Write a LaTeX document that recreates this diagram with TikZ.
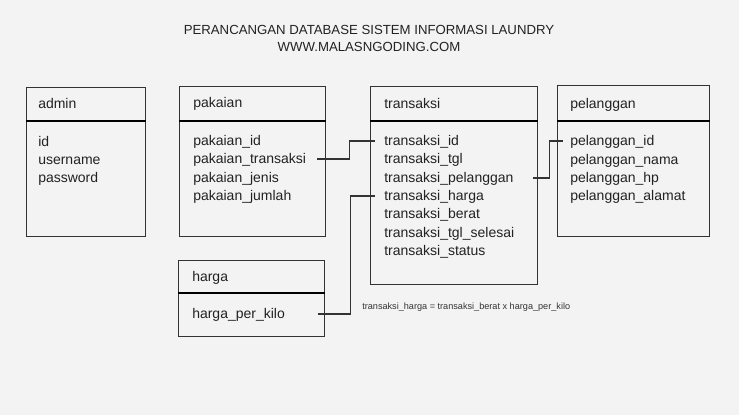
\documentclass[tikz,border=0pt]{standalone}
\usepackage{fontspec}
\setmainfont{Liberation Sans}
\usetikzlibrary{calc}
\definecolor{bg}{HTML}{F3F3F3}
\definecolor{ink}{HTML}{222222}
\definecolor{edge}{HTML}{333333}
\begin{document}
\begin{tikzpicture}[x=0.75pt,y=-0.75pt,
  tbl/.style={draw=edge, line width=0.9pt, anchor=north west, inner sep=0pt},
  sep/.style={line width=1.7pt, black},
  fld/.style={anchor=west, inner sep=0pt, text height=8pt, text depth=0.8pt, font=\fontsize{10.5pt}{12pt}\selectfont, text=ink},
  ttl/.style={inner sep=0pt, font=\fontsize{9.9pt}{11pt}\selectfont, text=ink},
  note/.style={anchor=west, inner sep=0pt, font=\fontsize{6.85pt}{8pt}\selectfont, text=edge},
  conn/.style={draw=edge, line width=0.8pt}]
\fill[bg] (0,0) rectangle (739,415);
\useasboundingbox (0,0) rectangle (739,415);

% title
\node[ttl] (t1) at (369,30) {PERANCANGAN DATABASE SISTEM INFORMASI LAUNDRY};
\node[ttl] (t2) at (369,47) {WWW.MALASNGODING.COM};

% boxes
\node[tbl, minimum width=89.25pt, minimum height=111.75pt] (admin) at (26,87) {};
\node[tbl, minimum width=109.5pt, minimum height=112.5pt] (pakaian) at (179,86) {};
\node[tbl, minimum width=125.25pt, minimum height=148.5pt] (transaksi) at (370,86) {};
\node[tbl, minimum width=114pt, minimum height=113.25pt] (pelanggan) at (557,85) {};
\node[tbl, minimum width=109.5pt, minimum height=57pt] (harga) at (178,260) {};

% separators
\draw[sep] (admin.west |- 0,121) -- (admin.east |- 0,121);
\draw[sep] (pakaian.west |- 0,121) -- (pakaian.east |- 0,121);
\draw[sep] (transaksi.west |- 0,121) -- (transaksi.east |- 0,121);
\draw[sep] (pelanggan.west |- 0,121) -- (pelanggan.east |- 0,121);
\draw[sep] (harga.west |- 0,293) -- (harga.east |- 0,293);

% admin
\node[fld] (ah) at (38,104) {admin};
\node[fld] (a1) at (38,142) {id};
\node[fld] (a2) at (38,160) {username};
\node[fld] (a3) at (38,178) {password};

% pakaian
\node[fld] (ph) at (193,103) {pakaian};
\node[fld] (p1) at (193,141) {pakaian\_id};
\node[fld] (pt) at (193,159) {pakaian\_transaksi};
\node[fld] (p3) at (193,178) {pakaian\_jenis};
\node[fld] (p4) at (193,196) {pakaian\_jumlah};

% transaksi
\node[fld] (th) at (384,104) {transaksi};
\node[fld] (tid) at (384,141) {transaksi\_id};
\node[fld] (t2f) at (384,159) {transaksi\_tgl};
\node[fld] (tpel) at (384,178) {transaksi\_pelanggan};
\node[fld] (thar) at (384,196) {transaksi\_harga};
\node[fld] (t5) at (384,214) {transaksi\_berat};
\node[fld] (t6) at (384,233) {transaksi\_tgl\_selesai};
\node[fld] (t7) at (384,251) {transaksi\_status};

% pelanggan
\node[fld] (lh) at (570,104) {pelanggan};
\node[fld] (lid) at (570,141) {pelanggan\_id};
\node[fld] (l2) at (570,160) {pelanggan\_nama};
\node[fld] (l3) at (570,178) {pelanggan\_hp};
\node[fld] (l4) at (570,196) {pelanggan\_alamat};

% harga
\node[fld] (hh) at (192,277) {harga};
\node[fld] (hpk) at (192,314) {harga\_per\_kilo};

% note
\node[note] (nt) at (362,307) {transaksi\_harga = transaksi\_berat x harga\_per\_kilo};

% connectors
\draw[conn] ($(pakaian.east |- pt)+(-6.75pt,0)$) -- ++(24pt,0) |- ($(transaksi.west |- tid)+(3.75pt,0)$);
\draw[conn] ($(transaksi.east |- tpel)+(-3.75pt,0)$) -- ++(12pt,0) |- ($(pelanggan.west |- lid)+(4.5pt,0)$);
\draw[conn] ($(harga.east |- hpk)+(-5.25pt,0)$) -- ++(24pt,0) |- ($(transaksi.west |- thar)+(3.75pt,0)$);
\end{tikzpicture}
\end{document}
